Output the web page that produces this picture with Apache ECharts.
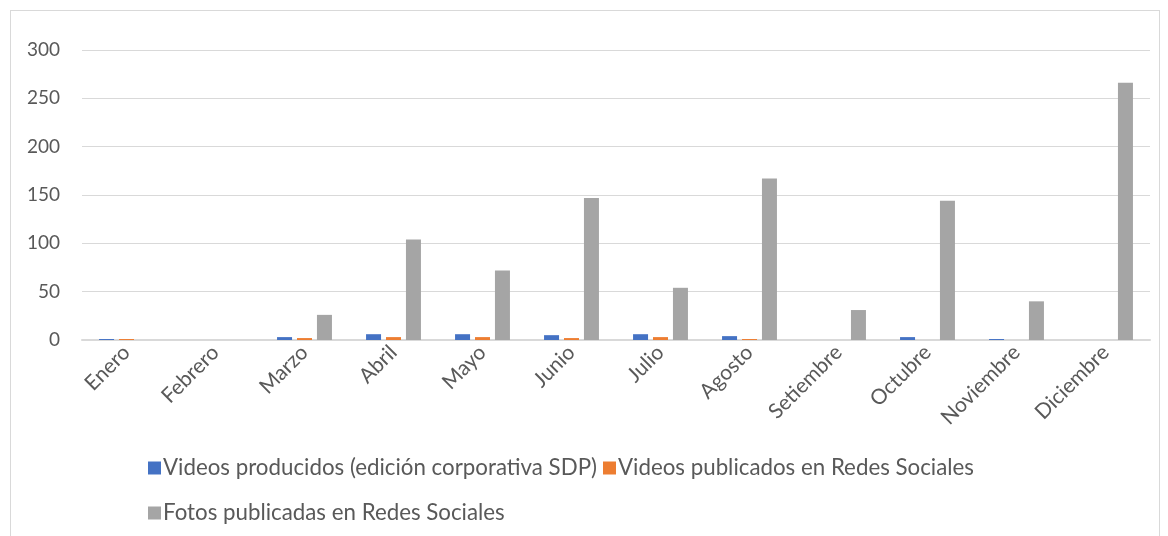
<!DOCTYPE html>
<html><head><meta charset="utf-8">
<script src="https://cdn.jsdelivr.net/npm/echarts@6/dist/echarts.min.js"></script>
<style>
html,body{margin:0;padding:0;background:#fff;}
#frame{position:absolute;left:10px;top:10px;width:1150px;height:540px;border:1px solid #d9d9d9;box-sizing:border-box;}
#c{position:absolute;left:0;top:0;width:1168px;height:536px;}
</style></head>
<body><div id="frame"></div><div id="c"></div>
<script>
const categories = ['Enero','Febrero','Marzo','Abril','Mayo','Junio','Julio','Agosto','Setiembre','Octubre','Noviembre','Diciembre'];
const seriesNames = ['Videos producidos (edición corporativa SDP)','Videos publicados en Redes Sociales','Fotos publicadas en Redes Sociales'];
const videosProducidos = [1, 0, 3, 6, 6, 5, 6, 4, 0, 3, 1, 0];
const videosPublicados = [1, 0, 2, 3, 3, 2, 3, 1, 0, 0, 0, 0];
const fotosPublicadas = [0, 0, 26, 104, 72, 147, 54, 167, 31, 144, 40, 266];
const yTicks = [0, 50, 100, 150, 200, 250, 300];
const colors = ['#4472C4','#ED7D31','#A5A5A5'];
const font = 'Lato, "Open Sans", sans-serif';
const chart = echarts.init(document.getElementById('c'));
const mk = (name, data, color) => ({
  name, type:'bar', data, barWidth:15, barGap:'33%', itemStyle:{color}
});
chart.setOption({
  animation:false,
  textStyle:{fontFamily:font},
  grid:{left:82, right:18, top:50, bottom:196},
  legend:[
    {data:[seriesNames[0],seriesNames[1]], left:143, top:452, itemWidth:13, itemHeight:13, itemGap:6, icon:'rect',
     textStyle:{fontSize:22.3, color:'#595959', fontFamily:font, padding:[0,0,0,-3]}},
    {data:[seriesNames[2]], left:143, top:497, itemWidth:13, itemHeight:13, icon:'rect',
     textStyle:{fontSize:22.3, color:'#595959', fontFamily:font, padding:[0,0,0,-3]}}
  ],
  xAxis:{type:'category', data:categories,
    axisLine:{lineStyle:{color:'#d9d9d9', width:2}}, axisTick:{show:false},
    axisLabel:{rotate:45, fontSize:21, color:'#595959', margin:9, interval:0}},
  yAxis:{type:'value', min:yTicks[0], max:yTicks[yTicks.length-1], interval:50,
    axisLine:{show:false}, axisTick:{show:false},
    splitLine:{lineStyle:{color:'#d9d9d9'}},
    axisLabel:{fontSize:19, color:'#595959', margin:22}},
  series:[mk(seriesNames[0],videosProducidos,colors[0]), mk(seriesNames[1],videosPublicados,colors[1]), mk(seriesNames[2],fotosPublicadas,colors[2])]
});
</script></body></html>
